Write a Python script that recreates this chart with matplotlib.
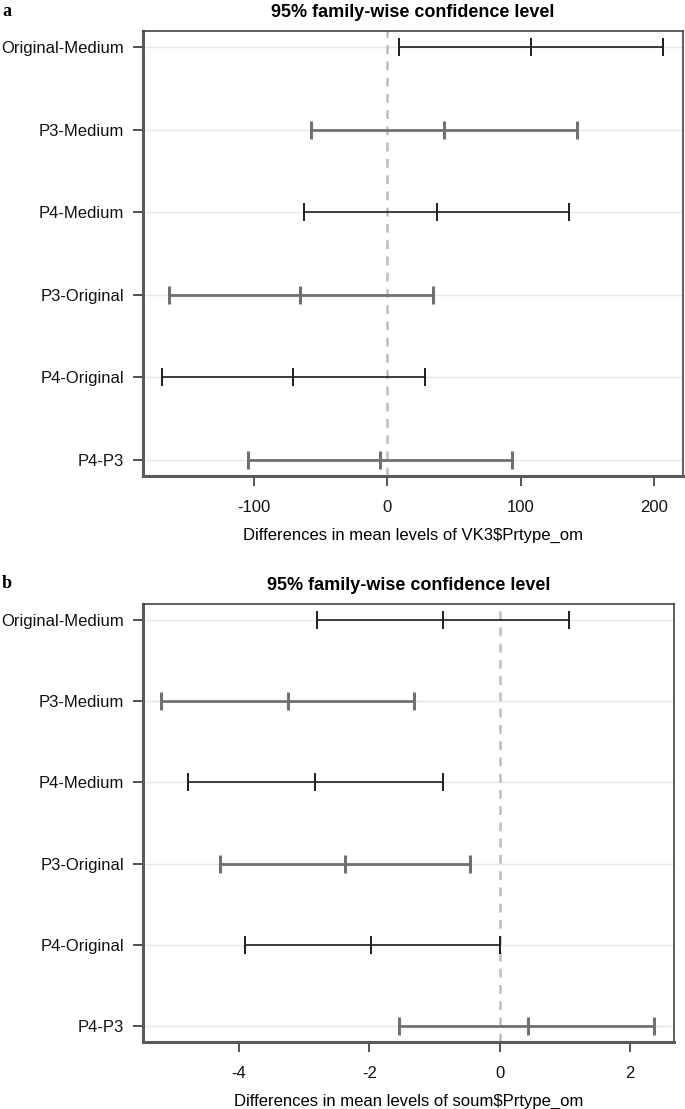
import numpy as np
import matplotlib
matplotlib.use("Agg")
import matplotlib.pyplot as plt

plt.rcParams['font.family'] = ['Liberation Sans', 'DejaVu Sans']

# comparisons, top to bottom
comparisons = ['Original-Medium', 'P3-Medium', 'P4-Medium',
               'P3-Original', 'P4-Original', 'P4-P3']

# panel a : VK3$Prtype_om
diff_a = [107.8, 42.7, 37.0, -65.1, -70.5, -5.5]
lwr_a = [8.6, -57.2, -62.5, -163.7, -168.8, -104.2]
upr_a = [206.8, 142.5, 136.3, 34.5, 28.3, 93.8]

# panel b : soum$Prtype_om
diff_b = [-0.87, -3.25, -2.83, -2.38, -1.97, 0.44]
lwr_b = [-2.80, -5.20, -4.79, -4.30, -3.91, -1.54]
upr_b = [1.07, -1.31, -0.87, -0.45, 0.00, 2.38]

ticks_a = [-100, 0, 100, 200]
ticks_b = [-4, -2, 0, 2]

W, H = 685, 1109
fig = plt.figure(figsize=(W / 100, H / 100), dpi=100)


def tukey_panel(rect, diff, lwr, upr, xlim, xticks, xlabel, letter, letter_y):
    ax = fig.add_axes(rect)
    n = len(comparisons)
    ypos = np.arange(n, 0, -1)
    ax.set_xlim(*xlim)
    ax.set_ylim(0.8, n + 0.2)

    for y in ypos:
        ax.axhline(y, color='#e6e6e6', lw=1.0, zorder=0)
    ax.axvline(0, color='#bdbdbd', lw=1.8, ls=(0, (3.5, 3)), zorder=1)

    for i, y in enumerate(ypos):
        # alternating dark thin / grey thick bars, like the R plot
        if i % 2 == 0:
            col, lw = '#1e1e1e', 1.2
        else:
            col, lw = '#707070', 2.0
        ax.plot([lwr[i], upr[i]], [y, y], color=col, lw=lw, zorder=3,
                solid_capstyle='butt')
        ax.plot([lwr[i], diff[i], upr[i]], [y, y, y], ls='none', marker='|',
                markersize=13, mew=lw + 0.2, color=col, zorder=4)

    ax.set_yticks(ypos)
    ax.set_yticklabels(comparisons)
    ax.set_xticks(xticks)
    ax.set_xticklabels([str(t) for t in xticks])
    ax.tick_params(axis='both', direction='out', length=7.5, width=1.3,
                   color='#444444', labelsize=12, pad=6, labelcolor='#111111')
    ax.tick_params(axis='x', pad=10)

    for side in ['top', 'right']:
        ax.spines[side].set_color('#444444')
        ax.spines[side].set_linewidth(1.2)
    for side in ['left', 'bottom']:
        ax.spines[side].set_color('#5a5a5a')
        ax.spines[side].set_linewidth(2.2)

    ax.set_title('95% family-wise confidence level', fontsize=13,
                 fontweight='bold', pad=10)
    ax.set_xlabel(xlabel, fontsize=12, labelpad=9, parse_math=False)
    fig.text(0.003, letter_y, letter, family=['Liberation Serif', 'DejaVu Serif'],
             fontsize=13, fontweight='bold', va='center', ha='left')
    return ax


left = 142.7 / W
tukey_panel([left, 1 - 476 / H, 682.7 / W - left, (476 - 31) / H],
            diff_a, lwr_a, upr_a, (-183.4, 221.5), ticks_a,
            'Differences in mean levels of VK3$Prtype_om', 'a', 1 - 12 / H)
tukey_panel([left, 1 - 1042 / H, 674 / W - left, (1042 - 604) / H],
            diff_b, lwr_b, upr_b, (-5.48, 2.68), ticks_b,
            'Differences in mean levels of soum$Prtype_om', 'b', 1 - 583 / H)

fig.savefig('out.png', dpi=100, facecolor='white')
